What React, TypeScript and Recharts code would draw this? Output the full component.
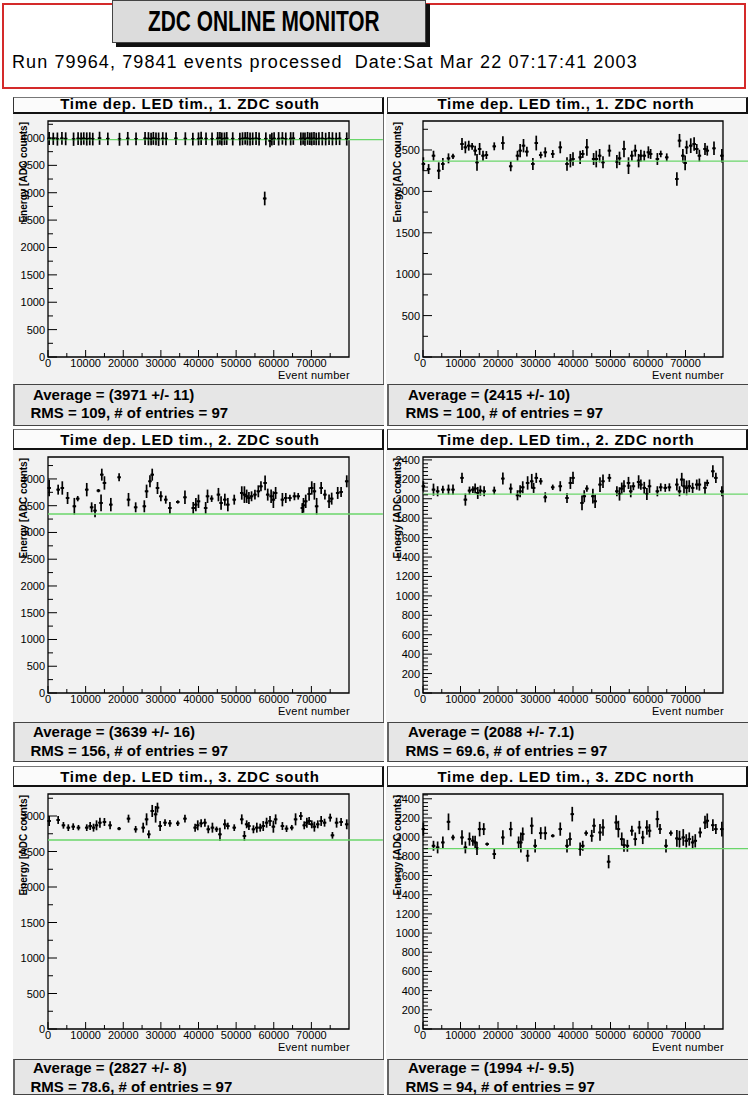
import React from "react";
import {
  ErrorBar, Label, ReferenceArea, ReferenceLine, Scatter, ScatterChart, XAxis, YAxis,
} from "recharts";

const FONT = '"Liberation Sans", Arial, Helvetica, sans-serif';

// event-number axis, shared by all six pads
const EVENT_MAX = 80000;
const EVENT_TICKS = [
  0, 5000, 10000, 15000, 20000, 25000, 30000, 35000,
  40000, 45000, 50000, 55000, 60000, 65000, 70000, 75000,
];
const EVENT_HALF_BIN = 480;

// labelled y ticks
const ADC_LABELS_4000 = [0, 500, 1000, 1500, 2000, 2500, 3000, 3500, 4000];
const ADC_LABELS_3000 = [0, 500, 1000, 1500, 2000, 2500, 3000];
const ADC_LABELS_2500 = [0, 500, 1000, 1500, 2000, 2500];
const ADC_LABELS_2400 = [0, 200, 400, 600, 800, 1000, 1200, 1400, 1600, 1800, 2000, 2200, 2400];

// ---- 1. ZDC south
const S1_EVT = [
  300, 1400, 2500, 3700, 4700, 6800, 8000, 8800, 9500, 10300, 11100, 11900,
  13700, 15900, 19000, 21200, 23400, 25800, 26700, 27400, 28000, 28700, 29400, 30500,
  31400, 34000, 36500, 38500, 40000, 40700, 42000, 43600, 45100, 45700, 46200, 46900,
  47500, 49100, 51000, 51700, 52400, 53000, 53700, 54400, 55300, 56100, 57600, 57900,
  59000, 59500, 60100, 61300, 62300, 63200, 64500, 65200, 67200, 67800, 68300, 69000,
  69600, 70100, 70700, 71300, 72000, 72900, 73800, 74700, 75600, 76600, 77500, 79400,
];
const S1_ADC = [
  3990, 3985, 3980, 3992, 3985, 3978, 3988, 3984, 3990, 3982, 3986, 3980,
  3994, 3984, 3976, 3988, 3982, 3990, 3986, 3980, 3992, 3985, 3978, 3988,
  3984, 3990, 3986, 3980, 3984, 3992, 3985, 3980, 3988, 3994, 3982, 3986,
  3990, 3984, 3978, 3986, 3992, 3988, 3982, 3985, 3990, 3980, 2895, 3984,
  3950, 3980, 3988, 3985, 3992, 3982, 3986, 3990, 3984, 3988, 3980, 3992,
  3986, 3984, 3990, 3982, 3986, 3988, 3980, 3990, 3985, 3984, 3988, 3982,
];
const S1_ERR = [
  118, 112, 120, 115, 118, 122, 116, 118, 114, 120, 118, 116,
  120, 115, 118, 122, 116, 118, 120, 114, 118, 116, 122, 118,
  115, 120, 118, 116, 118, 122, 114, 118, 120, 116, 118, 115,
  118, 120, 116, 118, 114, 122, 118, 116, 120, 118, 125, 118,
  120, 116, 118, 122, 115, 118, 120, 116, 118, 114, 122, 118,
  116, 120, 118, 115, 118, 122, 116, 118, 120, 114, 118, 120,
];

// ---- 1. ZDC north
const N1_EVT = [
  100, 1500, 2800, 4200, 5300, 6800, 8000, 10400, 11300, 12200, 13100, 13900,
  14400, 15100, 16000, 16900, 19000, 21300, 23400, 25200, 25900, 26800, 27700, 29300,
  30200, 31400, 32600, 34600, 36600, 38400, 39300, 40000, 41900, 42600, 43700, 45500,
  46200, 47100, 48000, 49700, 51700, 52400, 53600, 54800, 55700, 56600, 57500, 58100,
  59000, 60100, 60700, 62500, 63400, 65000, 67700, 68400, 69300, 69900, 70300, 71400,
  72300, 73000, 73700, 75200, 75800, 77600, 79700,
];
const N1_ADC = [
  2331, 2270, 2431, 2250, 2331, 2399, 2423, 2572, 2532, 2552, 2544, 2492,
  2351, 2512, 2431, 2439, 2544, 2584, 2303, 2431, 2492, 2552, 2480, 2331,
  2584, 2439, 2472, 2452, 2532, 2331, 2371, 2391, 2411, 2452, 2532, 2391,
  2391, 2431, 2351, 2492, 2359, 2399, 2512, 2311, 2431, 2492, 2371, 2431,
  2431, 2472, 2452, 2391, 2452, 2411, 2150, 2613, 2431, 2343, 2532, 2552,
  2572, 2512, 2431, 2512, 2492, 2520, 2431,
];
const N1_ERR = [
  81, 60, 60, 101, 72, 60, 32, 72, 72, 60, 40, 60,
  101, 72, 60, 48, 48, 81, 60, 60, 81, 81, 60, 72,
  89, 40, 60, 48, 72, 81, 81, 81, 81, 48, 101, 72,
  101, 81, 72, 72, 81, 81, 101, 101, 60, 72, 81, 72,
  60, 72, 60, 72, 40, 48, 81, 81, 81, 89, 81, 89,
  81, 60, 72, 72, 60, 81, 81,
];

// ---- 2. ZDC south
const S2_EVT = [
  300, 2700, 3800, 5200, 7000, 7900, 10300, 11600, 12500, 13400, 14100, 14300,
  15000, 16700, 18900, 21400, 23300, 25600, 26200, 27100, 27700, 29100, 30000, 31300,
  32400, 34500, 36400, 38600, 39300, 40000, 41900, 42400, 43500, 45300, 46000, 47000,
  47800, 49500, 51500, 52200, 52800, 53400, 54100, 55000, 55900, 56600, 57700, 58400,
  59300, 59900, 60500, 62300, 63200, 64300, 65500, 66500, 67600, 67900, 68500, 69400,
  70100, 70800, 71400, 72600, 73600, 74700, 75400, 77000, 77900, 79400,
];
const S2_ADC = [
  3831, 3800, 3831, 3644, 3489, 3632, 3800, 3470, 3408, 3781, 3551, 4080,
  3925, 3520, 4031, 3613, 3470, 3489, 3769, 3956, 4080, 3831, 3676, 3613,
  3457, 3570, 3657, 3457, 3520, 3582, 3457, 3676, 3632, 3707, 3551, 3613,
  3520, 3613, 3738, 3707, 3676, 3644, 3676, 3707, 3769, 3862, 3925, 3707,
  3676, 3613, 3738, 3613, 3644, 3644, 3676, 3676, 3457, 3507, 3582, 3719,
  3831, 3769, 3489, 3831, 3707, 3582, 3632, 3738, 3757, 3956,
];
const S2_ERR = [
  156, 93, 125, 112, 156, 50, 125, 93, 125, 31, 156, 112,
  125, 125, 75, 125, 93, 112, 125, 112, 112, 112, 93, 75,
  112, 31, 125, 112, 125, 125, 112, 125, 62, 125, 125, 112,
  125, 93, 125, 156, 125, 112, 93, 93, 112, 93, 137, 112,
  125, 156, 112, 125, 93, 62, 75, 62, 93, 137, 125, 125,
  125, 156, 156, 112, 93, 125, 112, 112, 93, 112,
];

// ---- 2. ZDC north
const N2_EVT = [
  100, 2800, 3900, 5300, 6800, 8000, 10400, 11300, 12400, 13300, 13900, 14600,
  15300, 16300, 19000, 21300, 23400, 25200, 25900, 26600, 27900, 29000, 29500, 30200,
  31400, 32600, 34600, 36600, 38400, 39300, 40000, 42400, 43000, 43700, 45300, 45900,
  47200, 48000, 49700, 51700, 52400, 53000, 53600, 54800, 55400, 56100, 57500, 58100,
  59000, 59700, 60400, 62500, 63400, 64600, 65700, 67700, 68400, 69000, 69600, 70300,
  71000, 71900, 73000, 73700, 75200, 75800, 77300, 78100, 79700,
];
const N2_ADC = [
  2129, 2094, 2077, 2094, 2094, 2094, 2215, 1991, 2084, 2094, 2105, 2060,
  2084, 2077, 2084, 2208, 2105, 2036, 2077, 2118, 2163, 2180, 2112, 2215,
  2180, 2015, 2118, 2129, 2008, 2163, 2215, 1957, 2026, 2105, 2026, 1974,
  2146, 2180, 2215, 2077, 2050, 2105, 2129, 2163, 2077, 2129, 2173, 2146,
  2112, 2050, 2129, 2077, 2118, 2112, 2118, 2146, 2077, 2198, 2129, 2112,
  2129, 2112, 2146, 2146, 2112, 2163, 2283, 2215, 2077,
];
const N2_ERR = [
  52, 62, 52, 41, 52, 52, 52, 62, 41, 34, 52, 62,
  52, 52, 41, 62, 52, 52, 62, 62, 69, 76, 52, 52,
  34, 52, 28, 52, 52, 62, 62, 76, 62, 34, 76, 69,
  76, 69, 41, 52, 69, 62, 62, 62, 62, 41, 69, 52,
  62, 62, 69, 52, 41, 41, 41, 62, 52, 69, 76, 76,
  62, 52, 52, 62, 62, 34, 62, 52, 52,
];

// ---- 3. ZDC south
const S3_EVT = [
  300, 2700, 4100, 5400, 6700, 8100, 10300, 11200, 12100, 12900, 13800, 15000,
  16500, 18900, 21400, 23300, 25300, 26200, 26800, 27700, 28600, 29100, 29800, 31100,
  32400, 34500, 36400, 39100, 39800, 40700, 41700, 42600, 43700, 44800, 45700, 47000,
  47800, 49500, 51500, 52200, 52800, 53400, 54600, 55500, 56400, 57200, 58100, 59000,
  59900, 60500, 62300, 63400, 64800, 65800, 67200, 68100, 68800, 69400, 70100, 70800,
  71700, 72600, 73500, 75000, 75600, 76700, 77900, 79400,
];
const S3_ADC = [
  2930, 2944, 2869, 2836, 2850, 2836, 2836, 2859, 2836, 2869, 2906, 2916,
  2869, 2822, 2963, 2813, 2836, 2953, 2742, 3071, 3024, 3118, 2859, 2906,
  2897, 2897, 2963, 2836, 2869, 2897, 2906, 2813, 2836, 2813, 2742, 2883,
  2859, 2836, 2953, 2719, 2883, 2859, 2813, 2836, 2836, 2859, 2906, 2930,
  2850, 2953, 2859, 2822, 2836, 2953, 3000, 2869, 2906, 2930, 2883, 2850,
  2883, 2930, 2906, 2977, 2728, 2906, 2916, 2883,
];
const S3_ERR = [
  70, 56, 47, 47, 47, 38, 47, 56, 56, 70, 70, 56,
  56, 23, 56, 47, 70, 85, 56, 85, 117, 70, 70, 47,
  47, 38, 56, 56, 70, 56, 56, 56, 70, 38, 94, 70,
  47, 47, 70, 70, 56, 56, 56, 70, 56, 70, 70, 70,
  85, 70, 56, 47, 38, 85, 56, 56, 70, 56, 56, 70,
  56, 70, 56, 56, 47, 70, 56, 70,
];

// ---- 3. ZDC north
const N3_EVT = [
  100, 2800, 3900, 5300, 6800, 8000, 10400, 11300, 12400, 13300, 13900, 14400,
  15100, 16200, 17100, 19000, 21300, 23400, 25500, 26100, 26600, 27900, 29000, 29900,
  31400, 32600, 34600, 36600, 38400, 39200, 39800, 41900, 42600, 43500, 45000, 45600,
  47200, 48000, 49500, 51500, 52100, 53000, 53600, 54500, 55700, 56600, 57700, 58600,
  59700, 60400, 62500, 63200, 64800, 66100, 67700, 68400, 69400, 70200, 71000, 71900,
  72600, 73900, 75200, 75800, 77300, 78100, 79700,
];
const N3_ADC = [
  2084, 1910, 1893, 1945, 2160, 1997, 1997, 1893, 1980, 1962, 1945, 1883,
  2084, 2084, 1928, 1824, 1997, 2084, 1945, 1945, 2032, 1806, 2119, 1910,
  2042, 2042, 2014, 2084, 1910, 1980, 2240, 1876, 1910, 2042, 2014, 2119,
  2049, 2101, 1744, 2153, 2084, 1980, 1917, 1910, 2067, 1980, 2101, 1997,
  2101, 2067, 2188, 2084, 1910, 2042, 1987, 1980, 1997, 1962, 1980, 1945,
  1962, 2049, 2153, 2171, 2125, 2084, 2084,
];
const N3_ERR = [
  69, 52, 62, 62, 87, 28, 76, 62, 69, 52, 69, 69,
  76, 62, 17, 52, 76, 76, 62, 104, 69, 62, 87, 69,
  62, 69, 17, 69, 69, 69, 76, 69, 52, 28, 62, 76,
  87, 87, 69, 76, 87, 69, 69, 62, 52, 69, 69, 69,
  76, 69, 87, 52, 69, 28, 87, 87, 87, 69, 69, 69,
  69, 52, 69, 76, 62, 52, 76,
];

// reference level (green) and summary per pad
const REF_LEVELS = { s1: 3971, n1: 2365, s2: 3345, n2: 2048, s3: 2662, n3: 1880 };
const AVERAGES = { s1: "(3971 +/- 11)", n1: "(2415 +/- 10)", s2: "(3639 +/- 16)", n2: "(2088 +/- 7.1)", s3: "(2827 +/- 8)", n3: "(1994 +/- 9.5)" };
const RMS = { s1: "109", n1: "100", s2: "156", n2: "69.6", s3: "78.6", n3: "94" };
const ENTRIES = 97;

// pad geometry
const COLS = [
  { padLeft: 13, padWidth: 371, yAxisW: 35, rightM: 35, lineEnd: 89000, boxLeft: 13, boxWidth: 371, titleCx: 190, avgX: 33, rmsX: 30.5, yTitleX: 14 },
  { padLeft: 386, padWidth: 362, yAxisW: 37, rightM: 25, lineEnd: 86700, boxLeft: 387, boxWidth: 361, titleCx: 566, avgX: 408, rmsX: 405.5, yTitleX: 14.7 },
];
const ROWS = [
  { titleTop: 97, titleBottom: 114, frameTop: 121, frameBottom: 357, statsTop: 384, statsBottom: 426, titleCy: 104, avgCy: 395, rmsCy: 413 },
  { titleTop: 429, titleBottom: 450, frameTop: 457, frameBottom: 693, statsTop: 722, statsBottom: 762, titleCy: 439.5, avgCy: 732, rmsCy: 751 },
  { titleTop: 766, titleBottom: 787, frameTop: 794, frameBottom: 1029, statsTop: 1059, statsBottom: 1095, titleCy: 776.5, avgCy: 1068, rmsCy: 1087 },
];

const PADS = [
  { key: "s1", title: "Time dep. LED tim., 1. ZDC south", col: 0, row: 0, evt: S1_EVT, adc: S1_ADC, err: S1_ERR, yMax: 4310, labels: ADC_LABELS_4000, sub: 2 },
  { key: "n1", title: "Time dep. LED tim., 1. ZDC north", col: 1, row: 0, evt: N1_EVT, adc: N1_ADC, err: N1_ERR, yMax: 2850, labels: ADC_LABELS_2500, sub: 2 },
  { key: "s2", title: "Time dep. LED tim., 2. ZDC south", col: 0, row: 1, evt: S2_EVT, adc: S2_ADC, err: S2_ERR, yMax: 4410, labels: ADC_LABELS_4000, sub: 2 },
  { key: "n2", title: "Time dep. LED tim., 2. ZDC north", col: 1, row: 1, evt: N2_EVT, adc: N2_ADC, err: N2_ERR, yMax: 2430, labels: ADC_LABELS_2400, sub: 5 },
  { key: "s3", title: "Time dep. LED tim., 3. ZDC south", col: 0, row: 2, evt: S3_EVT, adc: S3_ADC, err: S3_ERR, yMax: 3310, labels: ADC_LABELS_3000, sub: 2 },
  { key: "n3", title: "Time dep. LED tim., 3. ZDC north", col: 1, row: 2, evt: N3_EVT, adc: N3_ADC, err: N3_ERR, yMax: 2450, labels: ADC_LABELS_2400, sub: 5 },
];

// labelled ticks plus the unlabelled subdivisions between them
const tickList = (labels: number[], sub: number, max: number) => {
  const step = (labels[1] - labels[0]) / sub;
  const out: number[] = [];
  for (let v = 0; v <= max; v += step) out.push(Math.round(v));
  return out;
};

const EventTick = (props: any) => {
  const { x, y, payload } = props;
  const major = payload.value % 10000 === 0;
  return (
    <g>
      <line x1={x} x2={x} y1={y} y2={y - (major ? 7 : 4)} stroke="#000" strokeWidth={1} />
      {major && (
        <text x={x} y={y + 10} textAnchor="middle" fontSize={11} fontFamily={FONT} fill="#000">
          {payload.value}
        </text>
      )}
    </g>
  );
};

const AdcTick = (props: any) => {
  const { x, y, payload, labels } = props;
  const major = labels.includes(payload.value);
  return (
    <g>
      <line x1={x} x2={x + (major ? 9 : 5)} y1={y} y2={y} stroke="#000" strokeWidth={1} />
      {major && (
        <text x={x - 3} y={y + 4} textAnchor="end" fontSize={11} fontFamily={FONT} fill="#000">
          {payload.value}
        </text>
      )}
    </g>
  );
};

const EventTitle = (props: any) => {
  const { x, y, width } = props.viewBox;
  return (
    <text x={x + width + 1} y={y + 22} textAnchor="end" fontSize={11} letterSpacing={0.3} fontFamily={FONT} fill="#000">
      Event number
    </text>
  );
};

const AdcTitle = (props: any) => {
  const { x, y } = props.viewBox;
  const tx = x + props.dx;
  const ty = y + 1;
  return (
    <text x={tx} y={ty} transform={`rotate(-90 ${tx} ${ty})`} textAnchor="end" fontSize={10} fontWeight="bold" fontFamily={FONT} fill="#000">
      Energy [ADC counts]
    </text>
  );
};

const Marker = (props: any) => <rect x={props.cx - 1} y={props.cy - 1} width={2} height={2} fill="#000" />;

const Pad = ({ pad }: { pad: (typeof PADS)[number] }) => {
  const col = COLS[pad.col];
  const row = ROWS[pad.row];
  const rows = pad.evt.map((x, i) => ({ x, y: pad.adc[i], err: pad.err[i], xerr: EVENT_HALF_BIN }));
  const yTicks = tickList(pad.labels, pad.sub, pad.yMax);
  const ref = REF_LEVELS[pad.key as keyof typeof REF_LEVELS];
  const height = row.statsTop - row.titleBottom;

  return (
    <>
      {/* grey pad behind the frame */}
      <div style={{ position: "absolute", left: col.padLeft, top: row.titleBottom, width: col.padWidth, height, background: "#f2f2f2", borderRight: pad.col === 0 ? "1px solid #666" : "none", boxSizing: "border-box" }} />

      {/* title box */}
      <div style={{ position: "absolute", left: col.boxLeft, top: row.titleTop, width: col.boxWidth, height: row.titleBottom - row.titleTop, background: "#fbfbfb", borderTop: "1px solid #777", borderLeft: "1px solid #333", borderRight: "2px solid #111", borderBottom: "2px solid #111", boxSizing: "border-box" }} />
      <div style={{ position: "absolute", left: col.titleCx - 200, width: 400, top: row.titleCy - 9, lineHeight: "18px", textAlign: "center", fontSize: 15, fontWeight: 700, letterSpacing: 0.75, whiteSpace: "nowrap" }}>
        {pad.title}
      </div>

      <div style={{ position: "absolute", left: col.padLeft, top: row.titleBottom }}>
        <ScatterChart width={col.padWidth} height={height} margin={{ top: row.frameTop - row.titleBottom, right: col.rightM, bottom: 0, left: 0 }}>
          <XAxis type="number" dataKey="x" domain={[0, EVENT_MAX]} ticks={EVENT_TICKS} interval={0} allowDataOverflow
            axisLine={false} tickLine={false} tickSize={0} tickMargin={0} height={row.statsTop - row.frameBottom}
            tick={(t: any) => <EventTick {...t} />}>
            <Label content={(lp: any) => <EventTitle {...lp} />} />
          </XAxis>
          <YAxis type="number" dataKey="y" domain={[0, pad.yMax]} ticks={yTicks} interval={0} allowDataOverflow
            axisLine={false} tickLine={false} tickSize={0} tickMargin={0} width={col.yAxisW}
            tick={(t: any) => <AdcTick {...t} labels={pad.labels} />}>
            <Label content={(lp: any) => <AdcTitle {...lp} dx={col.yTitleX} />} />
          </YAxis>
          <ReferenceArea x1={0} x2={EVENT_MAX} y1={0} y2={pad.yMax} fill="none" stroke="#000" strokeWidth={1.3} ifOverflow="visible" />
          <Scatter data={rows} isAnimationActive={false} shape={Marker}>
            <ErrorBar dataKey="err" direction="y" width={0} stroke="#000" strokeWidth={1.7} isAnimationActive={false} />
            <ErrorBar dataKey="xerr" direction="x" width={0} stroke="#000" strokeWidth={1.9} isAnimationActive={false} />
          </Scatter>
          <ReferenceLine segment={[{ x: 0, y: ref }, { x: col.lineEnd, y: ref }]} stroke="#6ad66a" strokeWidth={1.3} ifOverflow="visible" />
        </ScatterChart>
      </div>

      {/* statistics box */}
      <div style={{ position: "absolute", left: col.boxLeft, top: row.statsTop, width: col.boxWidth, height: row.statsBottom - row.statsTop, background: "#e6e6e6", borderTop: "1px solid #444", borderLeft: "2px solid #666", borderBottom: "1px solid #444", boxSizing: "border-box" }} />
      <div style={{ position: "absolute", left: col.avgX, top: row.avgCy - 9, lineHeight: "18px", fontSize: 15, fontWeight: 700, whiteSpace: "nowrap" }}>
        Average = {AVERAGES[pad.key as keyof typeof AVERAGES]}
      </div>
      <div style={{ position: "absolute", left: col.rmsX, top: row.rmsCy - 9, lineHeight: "18px", fontSize: 15, fontWeight: 700, whiteSpace: "nowrap" }}>
        RMS = {RMS[pad.key as keyof typeof RMS]}, # of entries = {ENTRIES}
      </div>
    </>
  );
};

export default function App() {
  return (
    <div style={{ position: "absolute", left: 0, top: 0, width: 748, height: 1095, overflow: "hidden", background: "#fff", fontFamily: FONT, color: "#000" }}>
      {/* header */}
      <div style={{ position: "absolute", left: 2, top: 3, width: 744, height: 86, border: "2px solid #d42a2a", boxSizing: "border-box" }} />
      <div style={{ position: "absolute", left: 112, top: 0, width: 312, height: 41, background: "#dcdcdc", border: "1px solid #444", boxShadow: "4px 4px 0 #111", display: "flex", alignItems: "center", justifyContent: "center" }}>
        <span style={{ display: "inline-block", fontSize: 29, fontWeight: 700, transform: "scaleX(0.72)", whiteSpace: "nowrap", marginRight: 10 }}>
          ZDC ONLINE MONITOR
        </span>
      </div>
      <div style={{ position: "absolute", left: 12, top: 52, fontSize: 18, lineHeight: "20px", letterSpacing: 1.1, whiteSpace: "nowrap" }}>
        Run 79964, 79841 events processed{"\u00a0 "}Date:Sat Mar 22 07:17:41 2003
      </div>

      {PADS.map((p) => (
        <Pad key={p.key} pad={p} />
      ))}
    </div>
  );
}
